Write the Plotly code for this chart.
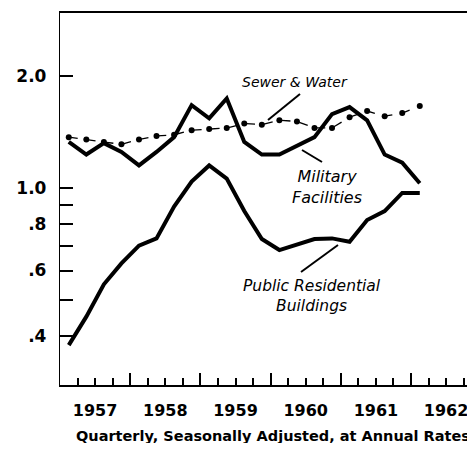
import plotly.graph_objects as go

# ---- data (quarterly, billions of dollars, seasonally adjusted annual rates) ----
years = [1957, 1958, 1959, 1960, 1961, 1962]
quarters = [f"{y}-Q{q}" for y in years for q in range(1, 5)][:21]  # 1957Q1 .. 1962Q1

sewer_water = [1.37, 1.35, 1.33, 1.31, 1.35, 1.38, 1.39, 1.43, 1.44, 1.45,
               1.49, 1.48, 1.52, 1.51, 1.45, 1.45, 1.55, 1.61, 1.56, 1.59, 1.66]
military = [1.33, 1.23, 1.32, 1.25, 1.15, 1.25, 1.37, 1.67, 1.54, 1.74,
            1.33, 1.23, 1.23, 1.30, 1.37, 1.58, 1.65, 1.52, 1.23, 1.17, 1.03]
public_res = [0.378, 0.451, 0.551, 0.627, 0.700, 0.732, 0.891, 1.04, 1.15, 1.06,
              0.867, 0.729, 0.681, 0.703, 0.729, 0.732, 0.717, 0.820, 0.867, 0.97, 0.97]

y_tickvals = [0.4, 0.6, 0.8, 1.0, 2.0]
y_ticktext = [".4", ".6", ".8", "1.0", "2.0"]
y_minor = [0.5, 0.7, 0.9]
x_labels = [str(y) for y in years]

def qpos(label):
    y, q = label.split("-Q")
    return int(y) + (int(q) - 0.5) / 4

x = [qpos(q) for q in quarters]
x_mid = [y + 0.5 for y in years]
x_quarter_ticks = [y + f for y in years for f in (0.25, 0.75)]

W, H = 467, 435
PLOT_W = W - 52
XR = [1957.0, 1957.0 + PLOT_W / 70.2]
YR = [-0.5296, 0.4704]
FONT = "DejaVu Sans"

fig = go.Figure()
fig.add_trace(go.Scatter(x=x, y=public_res, mode="lines",
                         line=dict(color="black", width=4), name="Public Residential Buildings"))
fig.add_trace(go.Scatter(x=x, y=military, mode="lines",
                         line=dict(color="black", width=4), name="Military Facilities"))
fig.add_trace(go.Scatter(x=x, y=sewer_water, mode="lines+markers",
                         line=dict(color="black", width=1.3, dash="dash"),
                         marker=dict(color="black", size=6), name="Sewer & Water"))
# invisible helper so the overlay axes exist
fig.add_trace(go.Scatter(x=[XR[0]], y=[1.0], xaxis="x2", yaxis="y2", mode="markers",
                         marker=dict(opacity=0), hoverinfo="skip", showlegend=False))

fig.update_layout(
    width=W, height=H,
    margin=dict(l=52, r=0, t=5, b=H - 377, autoexpand=False),
    paper_bgcolor="white", plot_bgcolor="white",
    showlegend=False,
    font=dict(family=FONT, color="black"),
    xaxis=dict(range=XR, tickmode="array", tickvals=x_mid, ticktext=x_labels,
               ticks="inside", ticklen=7, tickwidth=1.5, tickcolor="black",
               minor=dict(tickmode="array", tickvals=x_quarter_ticks, ticks="inside",
                          ticklen=7, tickwidth=1.5, tickcolor="black", showgrid=False),
               showline=True, linecolor="black", linewidth=2, mirror=True,
               showgrid=False, zeroline=False, ticklabelstandoff=10, automargin=False,
               ticklabeloverflow="allow",
               tickfont=dict(size=16, family=FONT, weight="bold")),
    xaxis2=dict(range=XR, overlaying="x", anchor="y", tickmode="array", tickvals=years,
                ticks="inside", ticklen=12, tickwidth=1.5, tickcolor="black",
                showticklabels=False, showline=False, showgrid=False, zeroline=False),
    yaxis=dict(type="log", range=YR, tickmode="array", tickvals=y_tickvals, ticktext=y_ticktext,
               ticks="inside", ticklen=13, tickwidth=1.5, tickcolor="black",
               minor=dict(tickmode="array", tickvals=y_minor, ticks="inside", ticklen=13,
                          tickwidth=1.5, tickcolor="black", showgrid=False),
               showline=True, linecolor="black", linewidth=1.3, automargin=False,
               showgrid=False, zeroline=False, ticklabelstandoff=9,
               tickfont=dict(size=17, family=FONT, weight="bold")),
    yaxis2=dict(type="log", range=YR, overlaying="y", side="right", anchor="x",
                tickmode="array", tickvals=[0.4, 0.5, 0.6, 0.7, 0.8, 0.9, 1.0, 2.0],
                ticks="inside", ticklen=5, tickwidth=1.5, tickcolor="black",
                showticklabels=False, showline=False, showgrid=False, zeroline=False),
)

# plot area in page pixels: x 60..475, y 13..385
def P(px, py):
    return (px - 60) / PLOT_W, (385 - py) / 372

annots = [
    ("<i>Sewer & Water</i>", (295, 82), 14),
    ("<i>Military<br>Facilities</i>", (327, 186.5), 16),
    ("<i>Public Residential<br>Buildings</i>", (312, 295.5), 15.5),
]
for text, (px, py), sz in annots:
    ax_, ay_ = P(px, py)
    fig.add_annotation(text=text, x=ax_, y=ay_, xref="paper", yref="paper",
                       xanchor="center", yanchor="middle",
                       showarrow=False, font=dict(size=sz, family=FONT))

pointers = [((300, 94), (268, 120)), ((302, 150), (322, 162)), ((301, 272), (338, 245))]
for (a, b) in pointers:
    x0, y0 = P(*a)
    x1, y1 = P(*b)
    fig.add_shape(type="line", xref="paper", yref="paper", x0=x0, y0=y0, x1=x1, y1=y1,
                  line=dict(color="black", width=2))

tx, ty = P(273, 436)
fig.add_annotation(text="Quarterly, Seasonally Adjusted, at Annual Rates", x=tx, y=ty,
                   xref="paper", yref="paper", xanchor="center", yanchor="middle",
                   showarrow=False, font=dict(size=14.5, family=FONT, weight="bold"))

fig.write_html("out.html")
